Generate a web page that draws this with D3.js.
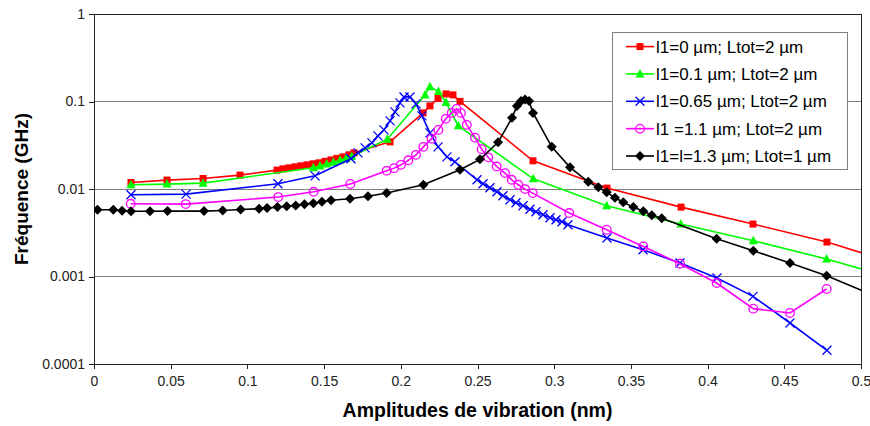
<!DOCTYPE html>
<html><head><meta charset="utf-8">
<script src="https://cdn.jsdelivr.net/npm/d3@7"></script>
<style>
html,body{margin:0;padding:0;background:#fff;}
svg{display:block;font-family:Arial,"Liberation Sans",sans-serif;}
</style></head>
<body>
<svg id="chart" width="870" height="426"></svg>
<script>
// ---- data ----
const seriesNames = ["l1=0 µm; Ltot=2 µm","l1=0.1 µm; Ltot=2 µm","l1=0.65 µm; Ltot=2 µm","l1 =1.1 µm; Ltot=2 µm","l1=l=1.3 µm; Ltot=1 µm"];
const xTickValues = [0,0.05,0.1,0.15,0.2,0.25,0.3,0.35,0.4,0.45,0.5];
const xTickLabels = ["0","0.05","0.1","0.15","0.2","0.25","0.3","0.35","0.4","0.45","0.5"];
const yTickValues = [0.0001,0.001,0.01,0.1,1];
const yTickLabels = ["0.0001","0.001","0.01","0.1","1"];
const xTitle = "Amplitudes de vibration (nm)";
const yTitle = "Fréquence (GHz)";

const redX = [0.0241,0.0476,0.0711,0.0952,0.1193,0.1232,0.1271,0.1310,0.1349,0.1389,0.1428,0.1467,0.1506,0.1545,0.1584,0.1623,0.1662,0.1695,0.1930,0.2145,0.2190,0.2243,0.2295,0.2340,0.2386,0.2862,0.3344,0.3827,0.4296,0.4778,0.5254];
const redY = [0.01186,0.01264,0.01318,0.01441,0.01643,0.0170,0.01746,0.01793,0.01840,0.01889,0.01940,0.01991,0.02071,0.02154,0.02241,0.02331,0.02457,0.02590,0.03457,0.07413,0.08909,0.1085,0.1221,0.1190,0.1003,0.02099,0.01024,0.00621,0.003975,0.002476,0.001363];

const greenX = [0.0241,0.0476,0.0711,0.1430,0.1473,0.1517,0.1560,0.1604,0.1643,0.1680,0.1912,0.2158,0.2190,0.2245,0.2295,0.2375,0.2864,0.3342,0.3825,0.4298,0.4776,0.5254];
const greenY = [0.01117,0.01137,0.01167,0.01746,0.01835,0.01929,0.02025,0.02129,0.02238,0.02350,0.03712,0.1190,0.1479,0.1297,0.0971,0.05266,0.01307,0.00643,0.003975,0.002563,0.001584,0.000908];

const blueX = [0.0241,0.0600,0.1199,0.1441,0.1675,0.1721,0.1767,0.1812,0.1851,0.1890,0.1930,0.1962,0.1995,0.2021,0.2060,0.2099,0.2138,0.2190,0.2243,0.2301,0.2353,0.2497,0.2536,0.2581,0.2627,0.2666,0.2712,0.2751,0.2797,0.2842,0.2881,0.2927,0.2973,0.3012,0.3051,0.3090,0.3344,0.3579,0.3820,0.4061,0.4296,0.4537,0.4778];
const blueY = [0.008586,0.008746,0.01147,0.01414,0.02212,0.02590,0.02954,0.03368,0.04049,0.04739,0.06006,0.07606,0.09638,0.1128,0.1128,0.09389,0.06847,0.04381,0.03032,0.02331,0.02044,0.01274,0.01147,0.01032,0.00929,0.00837,0.00753,0.00696,0.00643,0.00587,0.00549,0.00508,0.00469,0.00445,0.00422,0.00390,0.002751,0.002022,0.001426,0.000961,0.000593,0.000294,0.0001434];

const magentaX = [0.0239,0.0598,0.1201,0.1432,0.1671,0.1908,0.1956,0.2001,0.2049,0.2099,0.2147,0.2201,0.2245,0.2293,0.2332,0.2364,0.2392,0.2430,0.2484,0.2527,0.2570,0.2625,0.2679,0.2723,0.2766,0.2810,0.2860,0.3098,0.3342,0.3581,0.3820,0.4059,0.4298,0.4537,0.4776];
const magentaY = [0.006777,0.006724,0.008085,0.00929,0.01141,0.01613,0.01732,0.01889,0.02127,0.02457,0.03032,0.03761,0.04739,0.06331,0.07413,0.0823,0.07413,0.05406,0.03862,0.02854,0.02300,0.01806,0.01519,0.01274,0.01117,0.00997,0.00898,0.00531,0.00342,0.002206,0.0014,0.000843,0.000429,0.000383,0.00072];

const blackX = [0.0023,0.0126,0.0183,0.0241,0.0365,0.0479,0.0717,0.0839,0.0956,0.1076,0.1128,0.1196,0.1256,0.1315,0.1372,0.1430,0.1486,0.1545,0.1669,0.1786,0.1908,0.2147,0.2386,0.2516,0.2634,0.2725,0.2757,0.2784,0.2810,0.2836,0.2862,0.2984,0.3103,0.3222,0.3288,0.3342,0.3396,0.3450,0.3516,0.3581,0.3636,0.3701,0.4059,0.4298,0.4537,0.4776,0.5254];
const blackY = [0.00579,0.00579,0.00564,0.00556,0.00556,0.00559,0.00559,0.00568,0.00582,0.00594,0.00605,0.00621,0.00634,0.00648,0.00669,0.00687,0.00714,0.00743,0.00773,0.00825,0.00898,0.01117,0.01656,0.02183,0.03412,0.06500,0.08909,0.1016,0.1057,0.1016,0.07413,0.03032,0.01769,0.01209,0.01045,0.00917,0.00793,0.00705,0.00621,0.00556,0.00501,0.00463,0.0027,0.00197,0.001426,0.001021,0.000456];

const seriesColors = ["#ff0000","#00ff00","#0000ff","#ff00ff","#000000"];
const seriesMarkers = ["square","triangle","x","circle","diamond"];
const seriesX = [redX,greenX,blueX,magentaX,blackX];
const seriesY = [redY,greenY,blueY,magentaY,blackY];

// ---- layout ----
const L = 94, R = 861, T = 14, B = 364;
const svg = d3.select("#chart");
const x = d3.scaleLinear().domain([0,0.5]).range([L,R]);
const y = d3.scaleLog().domain([0.0001,1]).range([B,T]);

// gridlines
svg.append("g").selectAll("line").data(yTickValues.slice(1,4)).join("line")
  .attr("x1",L).attr("x2",R).attr("y1",d=>y(d)).attr("y2",d=>y(d))
  .attr("stroke","#808080").attr("stroke-width",1).attr("shape-rendering","crispEdges");

// frame
svg.append("rect").attr("x",L).attr("y",T).attr("width",R-L).attr("height",B-T)
  .attr("fill","none").attr("stroke","#222").attr("stroke-width",1).attr("shape-rendering","crispEdges");

// axes
const yAxis = d3.axisLeft(y).tickValues(yTickValues).tickFormat((d,i)=>yTickLabels[i]).tickSize(5).tickPadding(4);
const gy = svg.append("g").attr("transform",`translate(${L},0)`).call(yAxis);
const xAxis = d3.axisBottom(x).tickValues(xTickValues).tickFormat((d,i)=>xTickLabels[i]).tickSize(5).tickPadding(7);
const gx = svg.append("g").attr("transform",`translate(0,${B})`).call(xAxis);
[gx,gy].forEach(g=>{
  g.select(".domain").attr("stroke","#222");
  g.selectAll(".tick line").attr("stroke","#222").attr("shape-rendering","crispEdges");
  g.selectAll(".tick text").attr("font-size","14px").attr("fill","#222").attr("font-family","Arial, 'Liberation Sans', sans-serif");
});

// titles
svg.append("text").attr("x",(L+R)/2).attr("y",417).attr("text-anchor","middle")
  .attr("font-size","19.5px").attr("font-weight","bold").attr("fill","#000").text(xTitle);
svg.append("text").attr("transform","translate(28,189) rotate(-90)").attr("text-anchor","middle")
  .attr("font-size","19px").attr("font-weight","bold").attr("fill","#000").text(yTitle);

// clip
svg.append("clipPath").attr("id","plotclip").append("rect")
  .attr("x",L).attr("y",T).attr("width",R-L).attr("height",B-T);

function drawMarker(g, type, color, cx, cy){
  if(type==="square"){
    g.append("rect").attr("x",cx-3.5).attr("y",cy-3.5).attr("width",7).attr("height",7).attr("fill",color);
  } else if(type==="triangle"){
    g.append("path").attr("d",`M${cx},${cy-5}L${cx+4.5},${cy+3.5}L${cx-4.5},${cy+3.5}Z`).attr("fill",color);
  } else if(type==="x"){
    g.append("path").attr("d",`M${cx-4.5},${cy-4.5}L${cx+4.5},${cy+4.5}M${cx+4.5},${cy-4.5}L${cx-4.5},${cy+4.5}`)
      .attr("stroke",color).attr("stroke-width",1.3).attr("fill","none");
  } else if(type==="circle"){
    g.append("circle").attr("cx",cx).attr("cy",cy).attr("r",4.3).attr("fill","none").attr("stroke",color).attr("stroke-width",1.3);
  } else if(type==="diamond"){
    g.append("path").attr("d",`M${cx},${cy-5}L${cx+5},${cy}L${cx},${cy+5}L${cx-5},${cy}Z`).attr("fill",color);
  }
}

const plot = svg.append("g").attr("clip-path","url(#plotclip)");
const line = d3.line().x(d=>x(d[0])).y(d=>y(d[1]));
seriesX.forEach((xs,i)=>{
  const pts = xs.map((v,j)=>[v,seriesY[i][j]]);
  const g = plot.append("g");
  g.append("path").datum(pts).attr("d",line).attr("fill","none")
    .attr("stroke",seriesColors[i]).attr("stroke-width",1.6);
  pts.forEach(p=>drawMarker(g, seriesMarkers[i], seriesColors[i], x(p[0]), y(p[1])));
});

// legend
const lg = svg.append("g");
lg.append("rect").attr("x",612.5).attr("y",32.5).attr("width",235).attr("height",137)
  .attr("fill","#fff").attr("stroke","#808080").attr("stroke-width",1);
seriesNames.forEach((name,i)=>{
  const cy = 46.6 + i*27.35;
  lg.append("line").attr("x1",626).attr("x2",654).attr("y1",cy).attr("y2",cy)
    .attr("stroke",seriesColors[i]).attr("stroke-width",1.6);
  drawMarker(lg, seriesMarkers[i], seriesColors[i], 640, cy);
  lg.append("text").attr("x",656).attr("y",cy).attr("dy","0.36em")
    .attr("font-size","17px").attr("fill","#000").text(name);
});
</script>
</body></html>
